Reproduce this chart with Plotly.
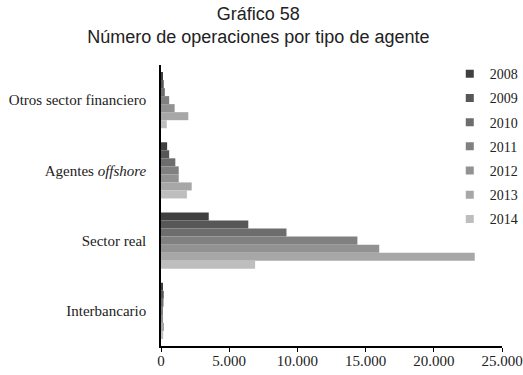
import plotly.graph_objects as go

categories = ["Otros sector financiero", "Agentes <i>offshore</i>", "Sector real", "Interbancario"]
years = ["2008", "2009", "2010", "2011", "2012", "2013", "2014"]
colors = ["#404040", "#575757", "#6d6d6d", "#808080", "#929292", "#a7a7a7", "#bebebe"]

# values per year, in order of categories
v2008 = [100, 450, 3500, 120]
v2009 = [200, 600, 6400, 200]
v2010 = [280, 1050, 9200, 180]
v2011 = [600, 1300, 14400, 120]
v2012 = [1000, 1300, 16000, 150]
v2013 = [2000, 2250, 23000, 220]
v2014 = [420, 1900, 6900, 160]
values = [v2008, v2009, v2010, v2011, v2012, v2013, v2014]

fig = go.Figure()
for i, (yr, col, vals) in enumerate(zip(years, colors, values)):
    fig.add_trace(go.Bar(
        y=categories, x=vals, orientation="h", name=yr,
        marker=dict(color=col, line=dict(width=0)),
        showlegend=False, legendgroup=yr,
    ))
    fig.add_trace(go.Scatter(
        x=[None], y=[None], mode="markers", name=yr,
        marker=dict(symbol="square", size=8, color=col),
        legendgroup=yr, showlegend=True,
    ))

serif = "Liberation Serif, Times New Roman, serif"

fig.update_layout(
    width=523, height=375,
    margin=dict(l=161, r=21, t=65, b=29, autoexpand=False),
    paper_bgcolor="white", plot_bgcolor="white",
    barmode="group", bargap=0.2, bargroupgap=0,
    separators=",.",
    title=dict(
        text="Gráfico 58<br>Número de operaciones por tipo de agente",
        x=0.494, xanchor="center", y=0.947, yanchor="top",
        font=dict(family="Liberation Sans, Arial, sans-serif", size=18, color="#222"),
    ),
    legend=dict(
        xref="container", yref="container",
        x=0.860, xanchor="left", y=0.845, yanchor="top",
        font=dict(family=serif, size=14, color="#222"),
        tracegroupgap=3, itemwidth=30, bgcolor="rgba(0,0,0,0)",
    ),
    xaxis=dict(
        range=[0, 25000], tickvals=[0, 5000, 10000, 15000, 20000, 25000],
        tickformat=",d", showgrid=False, zeroline=False,
        showline=True, linecolor="black", linewidth=1.5,
        ticks="outside", ticklen=4, tickcolor="black",
        tickfont=dict(family=serif, size=15, color="#222"),
        ticklabeloverflow="allow", ticklabelstandoff=-4,
        automargin=False,
    ),
    yaxis=dict(
        autorange="reversed", showgrid=False, zeroline=False,
        showline=True, linecolor="black", linewidth=1.5,
        ticks="", ticklabelstandoff=10,
        tickfont=dict(family=serif, size=15, color="#222"),
        automargin=False,
    ),
)

fig.write_html(
    "out.html",
    config={"displayModeBar": False},
    post_script="document.body.style.margin='0';document.body.style.overflow='hidden';",
)
